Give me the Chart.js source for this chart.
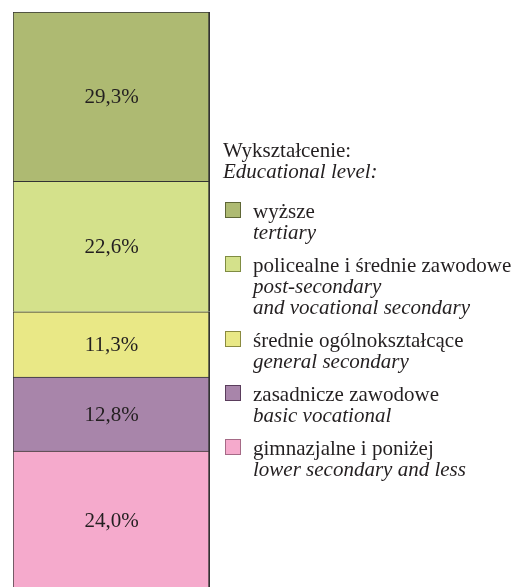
<!DOCTYPE html>
<html lang="pl">
<head>
<meta charset="utf-8">
<title>Wykształcenie</title>
<script src="https://cdn.jsdelivr.net/npm/chart.js@4.4.0/dist/chart.umd.min.js"></script>
<style>
	html, body { margin: 0; padding: 0; background: #ffffff; }
	#wrap { position: relative; width: 518px; height: 587px; overflow: hidden; }
	#legenda {
		position: absolute; left: 223px; top: 140px;
		font-family: 'Liberation Serif', 'Times New Roman', serif;
		font-size: 21px; line-height: 21px; color: #231f20;
	}
	#legenda .tytul { margin-bottom: 19px; }
	#legenda .item { position: relative; padding-left: 30px; margin-bottom: 12px; }
	#legenda .box {
		position: absolute; left: 2px; top: 1px; width: 16px; height: 16px;
		box-sizing: border-box; border: 1px solid #555;
	}
	#legenda i { font-style: italic; }
</style>
</head>
<body>
<div id="wrap">
	<canvas id="grafico"></canvas>
	<div id="legenda"></div>
</div>
<script>
document.addEventListener('DOMContentLoaded', () => {

	// kolejność jak w legendzie (od góry słupka)
	const kategorie = ['wyższe', 'policealne i średnie zawodowe', 'średnie ogólnokształcące', 'zasadnicze zawodowe', 'gimnazjalne i poniżej'];
	const kategorieEn = [['tertiary'], ['post-secondary', 'and vocational secondary'], ['general secondary'], ['basic vocational'], ['lower secondary and less']];
	const wartosci = [29.3, 22.6, 11.3, 12.8, 24.0];
	const kolory = ['#aeba72', '#d4e18b', '#e9e886', '#a885aa', '#f5aacc'];
	const koloryRamki = ['#5e6636', '#7f8c42', '#8a8a40', '#5a3d5c', '#a56a86'];

	const tytul = 'Wykształcenie:';
	const tytulEn = 'Educational level:';

	const fontSerif = "'Liberation Serif', 'Times New Roman', serif";

	// słupek skumulowany - pierwszy zestaw rysowany na dole
	const datasets = kategorie.map((nazwa, i) => ({
		label: nazwa,
		data: [wartosci[i]],
		backgroundColor: kolory[i],
		borderColor: '#333333',
		borderWidth: { top: 1, left: 1, right: 2, bottom: 0 },
		borderSkipped: false,
		barPercentage: 1,
		categoryPercentage: 1
	})).reverse();

	const etykietyWartosci = {
		id: 'etykietyWartosci',
		afterDatasetsDraw(chart) {
			const ctx = chart.ctx;
			ctx.save();
			ctx.font = '21px ' + fontSerif;
			ctx.fillStyle = '#231f20';
			ctx.textAlign = 'center';
			ctx.textBaseline = 'middle';
			chart.data.datasets.forEach((ds, i) => {
				const meta = chart.getDatasetMeta(i);
				meta.data.forEach((el, j) => {
					const p = el.getCenterPoint();
					const txt = ds.data[j].toFixed(1).replace('.', ',') + '%';
					ctx.fillText(txt, p.x, p.y + 1);
				});
			});
			ctx.restore();
		}
	};

	const ctxGrafico = document.getElementById('grafico').getContext('2d');

	const grafico = new Chart(ctxGrafico, {
		type: 'bar',
		data: {
			labels: [''],
			datasets: datasets
		},
		options: {
			responsive: true,
			maintainAspectRatio: false,
			animation: false,
			layout: { padding: { left: 13, top: 12, right: 308, bottom: 0 } },
			scales: {
				x: { stacked: true, display: false },
				y: { stacked: true, display: false, min: 0.45, max: 100 }
			},
			plugins: {
				legend: { display: false },
				tooltip: { enabled: false }
			}
		},
		plugins: [etykietyWartosci]
	});

	// legenda w HTML
	const legenda = document.getElementById('legenda');
	let html = `<div class="tytul">${tytul}<br><i>${tytulEn}</i></div>`;
	kategorie.forEach((nazwa, i) => {
		html += `<div class="item"><span class="box" style="background:${kolory[i]};border-color:${koloryRamki[i]}"></span>` +
			`${nazwa}<br><i>${kategorieEn[i].join('<br>')}</i></div>`;
	});
	legenda.innerHTML = html;

});
</script>
</body>
</html>
